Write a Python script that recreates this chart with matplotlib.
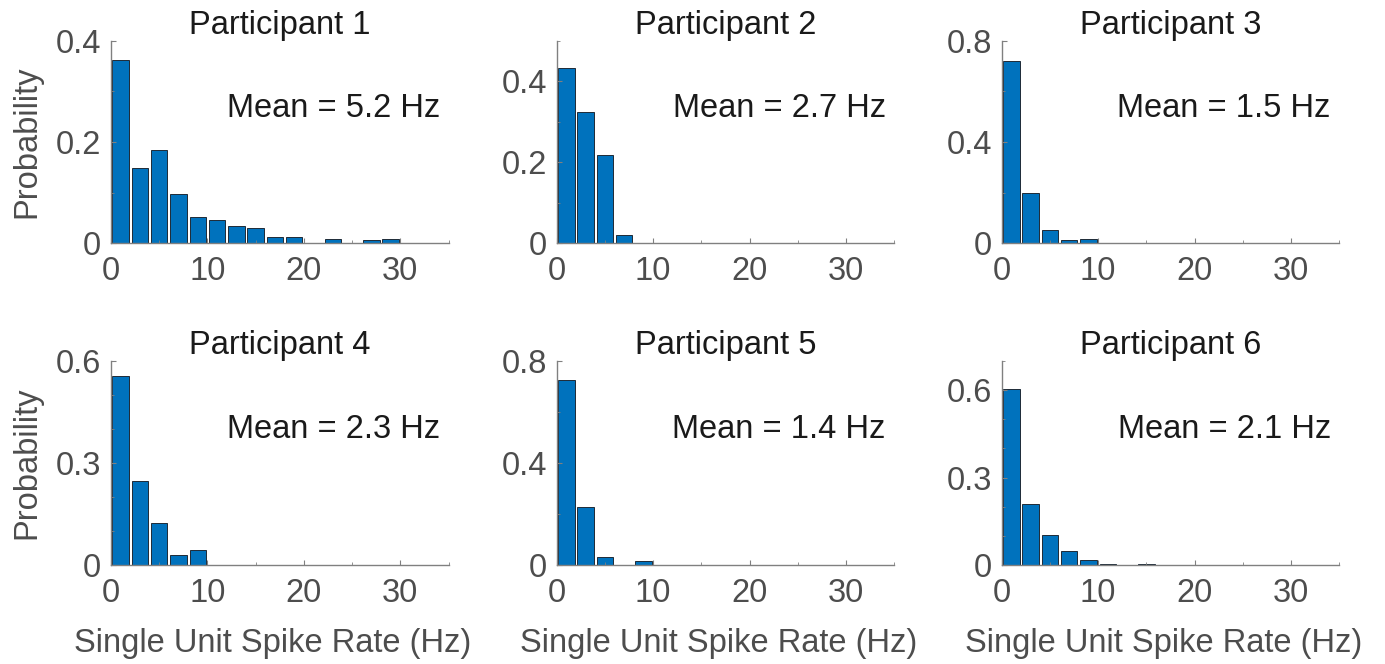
import matplotlib
matplotlib.use("Agg")
import matplotlib.pyplot as plt
from matplotlib.ticker import MultipleLocator, FuncFormatter

plt.rcParams['font.family'] = ['Liberation Sans', 'DejaVu Sans']

# histogram bin centres (Hz), 2 Hz bins
bin_centers = [1, 3, 5, 7, 9, 11, 13, 15, 17, 19, 21, 23, 25, 27, 29, 31, 33]

p1 = [0.362, 0.148, 0.185, 0.097, 0.051, 0.046, 0.033, 0.030, 0.012, 0.012,
      0.0, 0.008, 0.0, 0.005, 0.008, 0.0, 0.0]
p2 = [0.434, 0.324, 0.217, 0.021, 0.0, 0.0, 0.0, 0.0, 0.0, 0.0,
      0.0, 0.0, 0.0, 0.0, 0.0, 0.0, 0.0]
p3 = [0.722, 0.198, 0.050, 0.013, 0.016, 0.0, 0.0, 0.0, 0.0, 0.0,
      0.0, 0.0, 0.0, 0.0, 0.0, 0.0, 0.0]
p4 = [0.555, 0.247, 0.125, 0.030, 0.043, 0.0, 0.0, 0.0, 0.0, 0.0,
      0.0, 0.0, 0.0, 0.0, 0.0, 0.0, 0.0]
p5 = [0.727, 0.228, 0.031, 0.0, 0.014, 0.0, 0.0, 0.0, 0.0, 0.0,
      0.0, 0.0, 0.0, 0.0, 0.0, 0.0, 0.0]
p6 = [0.603, 0.211, 0.104, 0.049, 0.017, 0.003, 0.0, 0.002, 0.0, 0.0,
      0.0, 0.0, 0.0, 0.0, 0.0, 0.0, 0.0]

probs = [p1, p2, p3, p4, p5, p6]
titles = ['Participant 1', 'Participant 2', 'Participant 3',
          'Participant 4', 'Participant 5', 'Participant 6']
means = [5.2, 2.7, 1.5, 2.3, 1.4, 2.1]
ytop = [0.4, 0.5, 0.8, 0.6, 0.8, 0.7]
ymajor = [0.2, 0.2, 0.4, 0.3, 0.4, 0.3]
yminor = [0.1, 0.1, 0.2, 0.1, 0.2, 0.1]

W, H = 1385, 664
fig = plt.figure(figsize=(W / 100, H / 100), dpi=100)

lefts = [111, 556.7, 1001.7]
rows = [(41, 243), (361, 565)]
axw = 337.5
fs = 23.5

blue = '#0072BD'
gray_axis = '#808080'
gray_text = '#4d4d4d'

for i in range(6):
    r, c = divmod(i, 3)
    top, bot = rows[r]
    ax = fig.add_axes([lefts[c] / W, (H - bot) / H, axw / W, (bot - top) / H])
    ax.bar(bin_centers, probs[i], width=1.7, color=blue,
           edgecolor='#1f2a36', linewidth=0.7)
    ax.set_xlim(0, 35)
    ax.set_ylim(0, ytop[i])
    ax.set_xticks([0, 10, 20, 30])
    ax.xaxis.set_minor_locator(MultipleLocator(5))
    ax.yaxis.set_major_locator(MultipleLocator(ymajor[i]))
    ax.yaxis.set_minor_locator(MultipleLocator(yminor[i]))
    ax.yaxis.set_major_formatter(FuncFormatter(lambda v, p: '0' if abs(v) < 1e-9 else '%g' % round(v, 2)))
    for s in ['top', 'right']:
        ax.spines[s].set_visible(False)
    for s in ['left', 'bottom']:
        ax.spines[s].set_color(gray_axis)
        ax.spines[s].set_linewidth(1.0)
    ax.tick_params(which='both', direction='in', color=gray_axis)
    ax.tick_params(which='major', length=3.5, labelsize=fs, labelcolor=gray_text)
    ax.tick_params(axis='y', which='major', pad=7)
    ax.tick_params(axis='x', which='major', pad=9)
    ax.tick_params(which='minor', length=2.5)
    ax.set_title(titles[i], fontsize=fs, color='#1a1a1a', pad=4)
    ax.text(0.975, 0.665, 'Mean = %.1f Hz' % means[i], transform=ax.transAxes,
            ha='right', va='center', fontsize=fs, color='#1a1a1a')
    if c == 0:
        ax.set_ylabel('Probability', fontsize=fs, color=gray_text, labelpad=10)
    if r == 1:
        ax.set_xlabel('Single Unit Spike Rate (Hz)', fontsize=fs, color=gray_text, labelpad=14)
        ax.xaxis.label.set_x(0.48)

fig.savefig('out.png', dpi=100, facecolor='white')
